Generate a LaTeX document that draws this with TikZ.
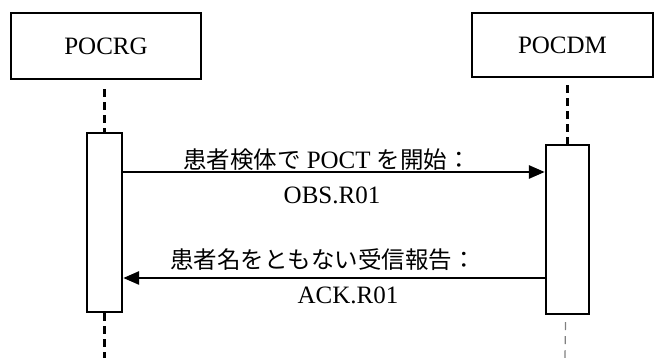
\documentclass[tikz,border=0pt]{standalone}
\usepackage{fontspec}
\setmainfont{Liberation Serif}
\newfontfamily\jp[Scale=0.94]{Noto Sans CJK JP}
\usetikzlibrary{arrows.meta}
\tikzset{
  actor/.style={draw, line width=2.4pt, font=\fontsize{25}{29}\selectfont, inner sep=0pt},
  act/.style={draw, line width=2.4pt, fill=white, inner sep=0pt},
  life/.style={line width=2.8pt, dash pattern=on 8pt off 5pt},
  lifethin/.style={line width=1.2pt, draw=gray, dash pattern=on 8pt off 6pt},
  msg/.style={line width=2.8pt, -{Triangle[length=16pt,width=13pt]}},
  lbl/.style={font=\fontsize{25}{29}\selectfont, inner sep=0pt}
}
\begin{document}
\begin{tikzpicture}[x=1pt,y=-1pt]
\useasboundingbox (0,0) rectangle (654,358);
\node[actor, minimum width=190pt, minimum height=66pt] (rg) at (106,46) {POCRG};
\node[actor, minimum width=181pt, minimum height=64pt] (dm) at (562.5,45) {POCDM};
\node[act, minimum width=35pt, minimum height=179pt] (la) at (104.5,222.5) {};
\node[act, minimum width=43pt, minimum height=169pt] (ra) at (567.5,229.5) {};
\coordinate (lb) at (104.5,358);
\coordinate (rb) at (565,358);
\draw[life] (la.north |- rg.south) ++(0,9) -- (la.north);
\draw[life] (la.south) -- (lb);
\draw[life] (ra.north |- dm.south) ++(0,7) -- (ra.north);
\draw[lifethin] (ra.south) ++(-2,7) -- (rb);
\coordinate (m1) at (0,172);
\coordinate (m2) at (0,278);
\draw[msg] (la.east |- m1) -- (ra.west |- m1);
\draw[msg] (ra.west |- m2) -- (la.east |- m2);
\node[lbl] (t1) at (327,160) {{\jp 患者検体で} POCT {\jp を開始：}};
\node[lbl] (t2) at (332,195) {OBS.R01};
\node[lbl] (t3) at (323,260) {{\jp 患者名をともない受信報告：}};
\node[lbl] (t4) at (348,295) {ACK.R01};
\end{tikzpicture}
\end{document}
